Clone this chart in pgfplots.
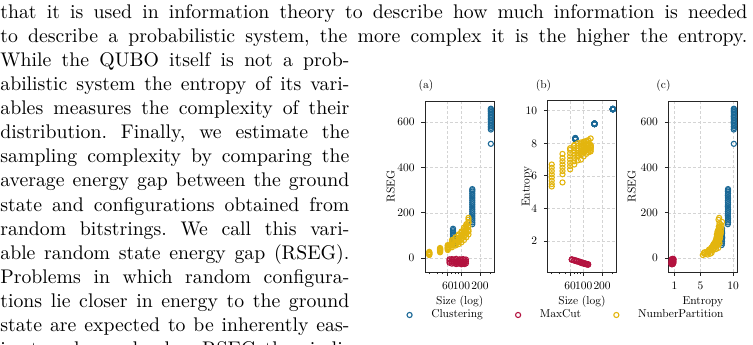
\documentclass[border=0pt]{standalone}
\usepackage{pgfplots}
\pgfplotsset{compat=1.18}
\usepackage{pgfplotstable}

\definecolor{clu}{HTML}{1A6896}
\definecolor{mxc}{HTML}{B3123F}
\definecolor{npart}{HTML}{E3B50E}

% the figure is set in the 10pt design scaled down
\font\figf=cmr10 at 5.8pt
\newcommand{\figfont}{\figf}
\newcommand{\fullline}[1]{\makebox[378.2pt][s]{#1}}
\newcommand{\colline}[1]{\makebox[176.7pt][s]{#1}}

% problem instances: number of variables, entropy of the variables, RSEG
\pgfplotstableread{
size entropy rseg
73 8.24 58
73 8.27 66
73 8.30 74
73 8.26 82
73 8.33 90
73 8.29 97
73 8.25 104
73 8.31 111
73 8.28 118
73 8.27 124
73 8.30 130
150 9.18 150
150 9.21 158
150 9.19 166
150 9.22 174
150 9.20 182
150 9.18 190
150 9.21 198
150 9.19 206
150 9.22 214
150 9.20 222
150 9.18 230
150 9.21 238
150 9.20 246
150 9.19 254
150 9.22 262
150 9.20 270
150 9.18 278
150 9.21 286
150 9.19 294
150 9.20 300
150 9.21 305
300 10.10 505
300 10.09 568
300 10.11 575
300 10.10 582
300 10.12 590
300 10.09 597
300 10.10 604
300 10.11 611
300 10.10 618
300 10.08 625
300 10.10 632
300 10.11 639
300 10.09 646
300 10.10 652
300 10.12 657
300 10.10 660
}\clustering

\pgfplotstableread{
size entropy rseg
64 0.88 -5
64 0.85 -12
64 0.86 -20
70 0.84 -4
70 0.82 -15
70 0.80 -24
76 0.80 -6
76 0.78 -14
76 0.76 -22
82 0.76 -3
82 0.74 -18
82 0.73 -26
88 0.72 -8
88 0.70 -16
88 0.68 -24
94 0.68 -5
94 0.66 -13
94 0.64 -22
100 0.65 -7
100 0.63 -19
100 0.62 -27
106 0.62 -4
106 0.60 -15
106 0.59 -25
112 0.60 -9
112 0.58 -18
112 0.57 -26
118 0.58 -6
118 0.56 -14
118 0.55 -23
}\maxcut

\pgfplotstableread{
size entropy rseg
30 5.35 14
30 5.50 22
30 5.70 18
30 5.90 25
30 6.10 16
30 6.30 28
30 6.50 20
30 6.70 24
45 5.60 26
45 6.10 30
45 6.30 38
45 6.50 33
45 6.70 42
45 6.90 36
45 7.10 45
45 7.35 40
60 6.40 36
60 6.60 42
60 6.80 48
60 7.00 40
60 7.20 55
60 7.40 50
60 7.60 58
60 7.70 45
70 6.70 48
70 6.90 55
70 7.10 62
70 7.30 70
70 7.50 58
70 7.70 75
70 7.90 66
70 7.85 80
80 6.95 56
80 7.20 64
80 7.40 72
80 7.55 80
80 7.70 88
80 7.85 70
80 8.00 92
80 7.30 60
90 7.00 62
90 7.30 70
90 7.50 80
90 7.65 90
90 7.80 100
90 7.95 85
90 8.05 105
90 7.40 75
100 7.20 70
100 7.45 82
100 7.60 95
100 7.75 105
100 7.90 118
100 8.00 100
100 8.10 112
100 7.50 88
110 7.35 80
110 7.55 95
110 7.70 108
110 7.85 120
110 7.95 135
110 8.10 115
110 8.15 128
110 7.60 100
120 7.45 92
120 7.60 108
120 7.75 122
120 7.90 138
120 8.00 150
120 8.15 130
120 8.20 145
120 7.70 115
130 7.50 105
130 7.70 125
130 7.80 140
130 7.90 155
130 7.75 170
130 7.85 178
130 8.30 160
130 7.60 118
}\numpart

\pgfplotsset{
  panel/.style={
    scale only axis, width=34.93pt, height=86.58pt, anchor=south west,
    axis line style={draw=black!85, line width=0.5pt},
    every tick/.style={draw=black!85, line width=0.45pt},
    major tick length=1.8pt, minor tick length=1.05pt,
    tick align=outside, xtick pos=left, ytick pos=left,
    xmajorgrids, ymajorgrids,
    major grid style={draw=black!17, line width=0.35pt, dash pattern=on 1.5pt off 1pt},
    /pgf/number format/assume math mode=true,
    tick label style={font=\figfont},
    label style={font=\figfont},
    every axis title/.style={font=\figfont, anchor=center},
    xlabel style={at={(axis description cs:0.5,-0.172)}, anchor=center},
  },
  pclu/.style={only marks, mark=o, mark size=1.3pt, color=clu, mark options={line width=0.55pt}},
  pmxc/.style={only marks, mark=o, mark size=1.3pt, color=mxc, mark options={line width=0.55pt}},
  pnp/.style={only marks, mark=o, mark size=1.3pt, color=npart, mark options={line width=0.55pt}},
}

\begin{document}
\begin{tikzpicture}
\useasboundingbox (0,0) rectangle (381.24pt,-174.17pt);
\clip (0,0) rectangle (381.24pt,-174.17pt);

% running text around the figure
\begin{scope}[every node/.style={anchor=base west, inner sep=0pt}, font=\frenchspacing]
\node at (0pt,-9.42pt) {\fullline{that it is used in information theory to describe how much information is needed}};
\node at (0pt,-21.59pt) {\fullline{to describe a probabilistic system, the more complex it is the higher the entropy.}};
\node at (0pt,-33.77pt) {\colline{While the QUBO itself is not a prob-}};
\node at (0pt,-45.95pt) {\colline{abilistic system the entropy of its vari-}};
\node at (0pt,-58.12pt) {\colline{ables measures the complexity of their}};
\node at (0pt,-70.30pt) {\colline{distribution. Finally, we estimate the}};
\node at (0pt,-82.48pt) {\colline{sampling complexity by comparing the}};
\node at (0pt,-94.65pt) {\colline{average energy gap between the ground}};
\node at (0pt,-106.83pt) {\colline{state and configurations obtained from}};
\node at (0pt,-119.01pt) {\colline{random bitstrings. We call this vari-}};
\node at (0pt,-131.18pt) {\colline{able random state energy gap (RSEG).}};
\node at (0pt,-143.36pt) {\colline{Problems in which random configura-}};
\node at (0pt,-155.54pt) {\colline{tions lie closer in energy to the ground}};
\node at (0pt,-167.71pt) {\colline{state are expected to be inherently eas-}};
\node at (0pt,-179.89pt) {\colline{ier to solve and a low RSEG thus indi-}};
\end{scope}

% (a) size vs RSEG
\begin{axis}[panel,
  xmode=log, xmin=25.6, xmax=344,
  xtick={60,100,200}, xticklabels={60,100,200},
  minor xtick={30,40,50,70,80,90,300},
  xlabel={Size (log)},
  ymin=-61, ymax=694, ytick={0,200,400,600}, ylabel={RSEG},
  at={(215.18pt,-137.71pt)}, width=35.19pt,
  title={(a)}, title style={at={(axis description cs:0.014,1.088)}},
  ylabel style={at={(axis description cs:-0.494,0.5)}, anchor=center},
  legend columns=3,
  legend image code/.code={\draw[#1] plot coordinates {(0pt,0pt)}; \path[draw=none] (0pt,0pt) -- (11pt,0pt);},
  legend style={at={(axis description cs:-0.259,-0.2515)}, anchor=west,
    draw=none, fill=none, inner sep=0pt, outer sep=0pt, nodes={inner sep=0pt},
    font=\figfont, /tikz/every even column/.append style={column sep=16.5pt}},
]
\addplot[pclu] table[x=size, y=rseg] {\clustering};
\addplot[pmxc] table[x=size, y=rseg] {\maxcut};
\addplot[pnp] table[x=size, y=rseg] {\numpart};
\legend{Clustering, MaxCut, NumberPartition}
\end{axis}

% (b) size vs entropy
\begin{axis}[panel,
  xmode=log, xmin=25.6, xmax=344,
  xtick={60,100,200}, xticklabels={60,100,200},
  minor xtick={30,40,50,70,80,90,300},
  xlabel={Size (log)},
  at={(277.20pt,-137.71pt)},
  ymin=0.1, ymax=10.6, ytick={2,4,6,8,10}, ylabel={Entropy},
  title={(b)}, title style={at={(axis description cs:-0.058,1.088)}},
  ylabel style={at={(axis description cs:-0.301,0.5)}, anchor=center},
]
\addplot[pclu] table[x=size, y=entropy] {\clustering};
\addplot[pmxc] table[x=size, y=entropy] {\maxcut};
\addplot[pnp] table[x=size, y=entropy] {\numpart};
\end{axis}

% (c) entropy vs RSEG
\begin{axis}[panel,
  ymin=-61, ymax=694, ytick={0,200,400,600}, ylabel={RSEG},
  at={(338.36pt,-137.71pt)},
  xmin=0.07, xmax=10.63, xtick={1,5,10}, xlabel={Entropy},
  title={(c)}, title style={at={(axis description cs:-0.07,1.088)}},
  ylabel style={at={(axis description cs:-0.53,0.5)}, anchor=center},
]
\addplot[pclu] table[x=entropy, y=rseg] {\clustering};
\addplot[pmxc] table[x=entropy, y=rseg] {\maxcut};
\addplot[pnp] table[x=entropy, y=rseg] {\numpart};
\end{axis}
\end{tikzpicture}
\end{document}
